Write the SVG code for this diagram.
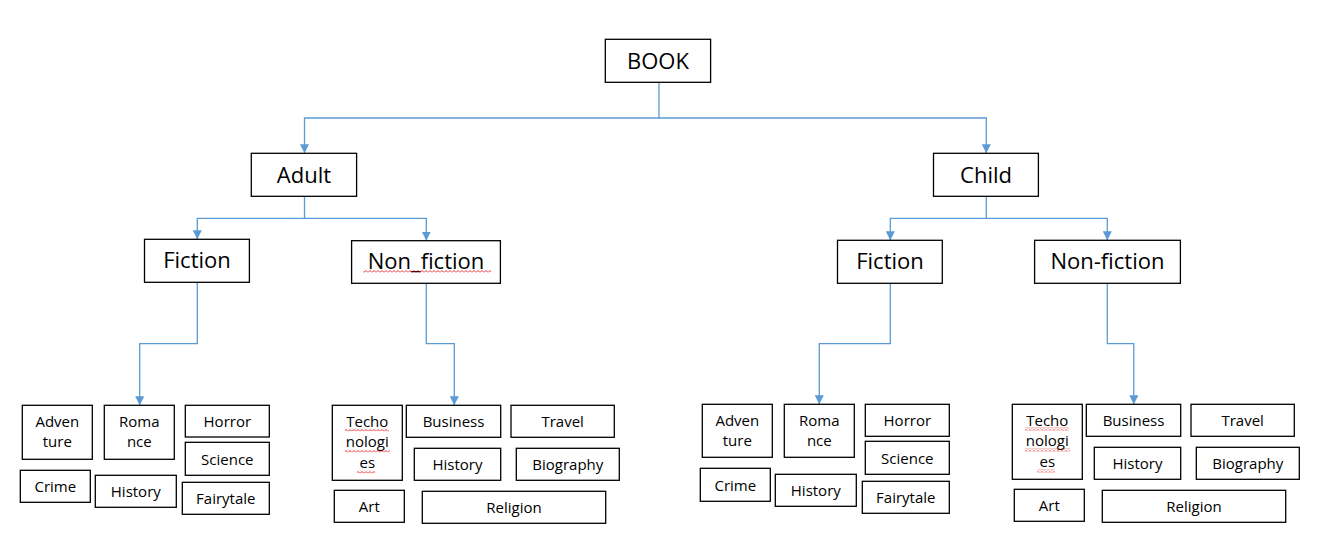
<svg xmlns="http://www.w3.org/2000/svg" width="1327" height="560" viewBox="0 0 1327 560">
<style>
.b{fill:#fff;stroke:#000;stroke-width:1.3}
.t{font-family:"Open Sans","Liberation Sans",sans-serif;fill:#000;text-anchor:middle}
.big{font-size:22px}
.sm{font-size:15px}
.c{fill:none;stroke:#5B9BD5;stroke-width:1.3}
</style>
<defs>
<marker id="ah" markerUnits="userSpaceOnUse" markerWidth="9" markerHeight="9" refX="9" refY="4.5" orient="auto">
<path d="M0,0 L9,4.5 L0,9 z" fill="#5B9BD5"/>
</marker>
<pattern id="sq" width="4" height="3" patternUnits="userSpaceOnUse">
<path d="M0,2.5 L2,0.5 L4,2.5" fill="none" stroke="#E00000" stroke-width="0.8"/>
</pattern>
</defs>
<rect width="1327" height="560" fill="#fff"/>
<g id="connectors">
<path class="c" d="M659,82.3 V118 H304.5 V153.3" marker-end="url(#ah)"/>
<path class="c" d="M659,118 H986.3 V153.3" marker-end="url(#ah)"/>
<path class="c" d="M304.5,196.3 V218.3 H197.3 V239.3" marker-end="url(#ah)"/>
<path class="c" d="M304.5,218.3 H426.3 V240.7" marker-end="url(#ah)"/>
<path class="c" d="M986.3,196.3 V218.3 H890.3 V240.3" marker-end="url(#ah)"/>
<path class="c" d="M986.3,218.3 H1107.3 V240.3" marker-end="url(#ah)"/>
<path class="c" d="M197.3,282.3 V343.7 H139.7 V405.3" marker-end="url(#ah)"/>
<path class="c" d="M426.3,283.3 V343.7 H454.3 V405.3" marker-end="url(#ah)"/>
<path class="c" d="M890.3,283.3 V343.7 H819.3 V404.3" marker-end="url(#ah)"/>
<path class="c" d="M1107.3,283.3 V343.7 H1133.8 V404.3" marker-end="url(#ah)"/>
</g>
<g id="book"><rect class="b" x="605.3" y="39.3" width="105.3" height="43"/><text class="t big" x="658" y="69">BOOK</text></g>
<g id="adult"><rect class="b" x="251.3" y="153.3" width="105.3" height="43"/><text class="t big" x="304" y="182.7">Adult</text></g>
<g id="child"><rect class="b" x="933.5" y="153.3" width="104.9" height="43"/><text class="t big" x="986" y="182.7">Child</text></g>
<g id="adult-fiction"><rect class="b" x="144.5" y="239.3" width="104.9" height="43"/><text class="t big" x="197" y="268.3">Fiction</text></g>
<g id="adult-nonfiction"><rect class="b" x="351.6" y="240.7" width="148.8" height="42.6"/><text class="t big" x="426" y="269.3">Non_fiction</text><rect x="363" y="270" width="128" height="3" fill="url(#sq)"/></g>
<g id="child-fiction"><rect class="b" x="837.5" y="240.3" width="104.8" height="43"/><text class="t big" x="890" y="269.3">Fiction</text></g>
<g id="child-nonfiction"><rect class="b" x="1034.6" y="240.3" width="145.8" height="43"/><text class="t big" x="1107.5" y="269.3">Non-fiction</text></g>

<g id="a-adventure"><rect class="b" x="22.3" y="405.3" width="70" height="54"/><text class="t sm" x="57.3" y="427.3">Adven</text><text class="t sm" x="57.3" y="447.3">ture</text></g>
<g id="a-romance"><rect class="b" x="104.3" y="405.3" width="70" height="54"/><text class="t sm" x="139.3" y="427.3">Roma</text><text class="t sm" x="139.3" y="447.3">nce</text></g>
<g id="a-horror"><rect class="b" x="185.3" y="405.3" width="84" height="31.7"/><text class="t sm" x="227.3" y="427.3">Horror</text></g>
<g id="a-science"><rect class="b" x="185.3" y="442.3" width="84" height="33"/><text class="t sm" x="227.3" y="465">Science</text></g>
<g id="a-crime"><rect class="b" x="20.3" y="470.3" width="70" height="32"/><text class="t sm" x="55.3" y="491.7">Crime</text></g>
<g id="a-history"><rect class="b" x="95.3" y="475.3" width="81" height="32"/><text class="t sm" x="135.8" y="497.3">History</text></g>
<g id="a-fairytale"><rect class="b" x="182.3" y="482.3" width="87" height="32"/><text class="t sm" x="225.8" y="504.3">Fairytale</text></g>

<g id="a-techo"><rect class="b" x="332.3" y="405.3" width="70" height="75"/><text class="t sm" x="367.3" y="426.7">Techo</text><text class="t sm" x="367.3" y="447.3">nologi</text><text class="t sm" x="367.3" y="468.3">es</text>
<rect x="345" y="428.5" width="44" height="3" fill="url(#sq)"/><rect x="345" y="449.5" width="45" height="3" fill="url(#sq)"/><rect x="357" y="470.5" width="18" height="3" fill="url(#sq)"/></g>
<g id="a-business"><rect class="b" x="406.3" y="405.3" width="94.4" height="32"/><text class="t sm" x="453.5" y="427.3">Business</text></g>
<g id="a-travel"><rect class="b" x="511" y="405.3" width="103.3" height="32"/><text class="t sm" x="562.7" y="427.3">Travel</text></g>
<g id="a-history2"><rect class="b" x="414.3" y="448.3" width="86.4" height="32"/><text class="t sm" x="457.5" y="470.3">History</text></g>
<g id="a-biography"><rect class="b" x="516.3" y="448.3" width="103" height="32"/><text class="t sm" x="567.8" y="470.3">Biography</text></g>
<g id="a-art"><rect class="b" x="334.3" y="490.3" width="70" height="32"/><text class="t sm" x="369.3" y="512">Art</text></g>
<g id="a-religion"><rect class="b" x="422.3" y="491.3" width="183.4" height="32"/><text class="t sm" x="514" y="513.3">Religion</text></g>

<g id="c-adventure"><rect class="b" x="702.3" y="404.3" width="70" height="53"/><text class="t sm" x="737.3" y="426.3">Adven</text><text class="t sm" x="737.3" y="446.3">ture</text></g>
<g id="c-romance"><rect class="b" x="784.3" y="404.3" width="70" height="53"/><text class="t sm" x="819.3" y="426.3">Roma</text><text class="t sm" x="819.3" y="446.3">nce</text></g>
<g id="c-horror"><rect class="b" x="865.3" y="404.3" width="84" height="32"/><text class="t sm" x="907.3" y="426.3">Horror</text></g>
<g id="c-science"><rect class="b" x="865.3" y="441.3" width="84" height="33"/><text class="t sm" x="907.3" y="464">Science</text></g>
<g id="c-crime"><rect class="b" x="700.3" y="468.3" width="70" height="33"/><text class="t sm" x="735.3" y="490.7">Crime</text></g>
<g id="c-history"><rect class="b" x="775.3" y="474.3" width="81" height="32"/><text class="t sm" x="815.8" y="496.3">History</text></g>
<g id="c-fairytale"><rect class="b" x="862.3" y="481.3" width="87" height="32"/><text class="t sm" x="905.8" y="503.3">Fairytale</text></g>

<g id="c-techo"><rect class="b" x="1012.3" y="404.3" width="70" height="75"/><text class="t sm" x="1047.3" y="425.7">Techo</text><text class="t sm" x="1047.3" y="446.3">nologi</text><text class="t sm" x="1047.3" y="467.3">es</text>
<rect x="1025" y="427.5" width="44" height="3" fill="url(#sq)"/><rect x="1025" y="448.5" width="45" height="3" fill="url(#sq)"/><rect x="1037" y="469.5" width="18" height="3" fill="url(#sq)"/></g>
<g id="c-business"><rect class="b" x="1086.3" y="404.3" width="94.4" height="32"/><text class="t sm" x="1133.5" y="426.3">Business</text></g>
<g id="c-travel"><rect class="b" x="1191" y="404.3" width="103.3" height="32"/><text class="t sm" x="1242.7" y="426.3">Travel</text></g>
<g id="c-history2"><rect class="b" x="1094.3" y="447.3" width="86.4" height="32"/><text class="t sm" x="1137.5" y="469.3">History</text></g>
<g id="c-biography"><rect class="b" x="1196.3" y="447.3" width="103" height="32"/><text class="t sm" x="1247.8" y="469.3">Biography</text></g>
<g id="c-art"><rect class="b" x="1014.3" y="489.3" width="70" height="32"/><text class="t sm" x="1049.3" y="511">Art</text></g>
<g id="c-religion"><rect class="b" x="1102.3" y="490.3" width="183.4" height="32"/><text class="t sm" x="1194" y="512.3">Religion</text></g>
</svg>
